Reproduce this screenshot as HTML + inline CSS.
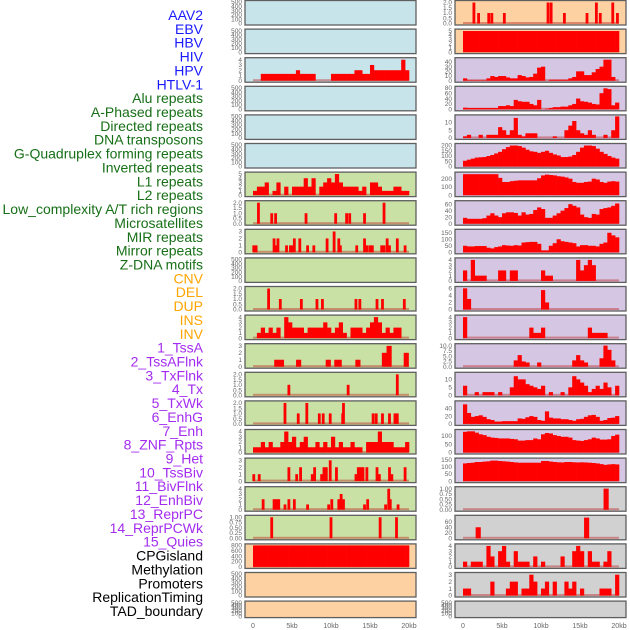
<!DOCTYPE html>
<html><head><meta charset="utf-8"><style>
html,body{margin:0;padding:0;background:#fff;}
svg{display:block;font-family:"Liberation Sans",sans-serif;}
</style></head><body>
<svg id="chart" width="630" height="630" viewBox="0 0 630 630" xmlns="http://www.w3.org/2000/svg"></svg>
<script>
// ---- track names ----
const trackLabels = ["AAV2","EBV","HBV","HIV","HPV","HTLV-1","Alu repeats","A-Phased repeats","Directed repeats","DNA transposons","G-Quadruplex forming repeats","Inverted repeats","L1 repeats","L2 repeats","Low_complexity A/T rich regions","Microsatellites","MIR repeats","Mirror repeats","Z-DNA motifs","CNV","DEL","DUP","INS","INV","1_TssA","2_TssAFlnk","3_TxFlnk","4_Tx","5_TxWk","6_EnhG","7_Enh","8_ZNF_Rpts","9_Het","10_TssBiv","11_BivFlnk","12_EnhBiv","13_ReprPC","14_ReprPCWk","15_Quies","CPGisland","Methylation","Promoters","ReplicationTiming","TAD_boundary"];
const labelGroups = [0,0,0,0,0,0,1,1,1,1,1,1,1,1,1,1,1,1,1,2,2,2,2,2,3,3,3,3,3,3,3,3,3,3,3,3,3,3,3,4,4,4,4,4];
const xTickValues = [0,5,10,15,20];
const xTickLabels = ["0","5kb","10kb","15kb","20kb"];

// ---- dense binned series (40 bins of 0.5kb) ----
const hivCounts = [0,0,1.3,1.3,1.3,1.3,1.3,1.3,1.3,1.3,1.3,2,1.3,1.3,1.3,1.3,0,0,0,0,1.3,1.3,1.3,1.3,1.3,1.3,2,2,1.3,1.3,3,2,2,2,2,2,2,2,4,2];
const l1Counts = [1,2,2,3,0,1,3,0,2,0,2,2,2,4,2,4,0,2,3,4,3,5,3,2,2,2,2,1,2,0,3,3,2,1,1,1,2,2,1,1];
const insCounts = [0,1,2,1,2,1,2,0,4,3,2,2,2,1,2,2,2,2,3,2,1,2,3,1,0,2,2,2,1,2,3,4,3,1,2,1,2,2,0,0];
const state4Counts = [1,1,2,1,2,1,1,2,4,2,3,1,2,3,1,1,2,1,2,1,3,1,2,1,1,2,1,1,0,2,2,2,4,2,2,2,1,1,1,2];
const cpgCounts = Array(40).fill(800);
const dupCounts = Array(40).fill(4.9);
const c2r3Counts = [5,1,1,1,1,1,5,10,8,10,10,7,5,5,12,10,7,8,15,28,30,0,2,2,2,2,2,5,8,20,20,12,12,18,25,30,45,45,8,0];
const c2r4Counts = [6,5,5,5,5,5,5,5,5,12,12,15,12,35,30,28,28,20,15,35,0,2,5,8,8,10,10,15,20,40,30,28,25,20,18,60,78,75,15,25];
const c2r5Counts = [1,2,0,0,2,0,2,2,2,7,5,2,5,13,2,1,3,3,3,0,0,0,0,1,0,0,5,8,11,5,3,2,5,2,0,0,2,0,5,14];
const c2r6Counts = [55,65,75,85,88,90,100,110,125,140,165,185,200,200,195,180,160,145,140,130,140,150,130,115,105,90,90,95,110,140,180,200,200,195,170,140,120,100,85,75];
const c2r7Counts = [255,255,255,255,255,255,255,255,255,210,160,160,170,175,180,180,180,180,180,205,240,250,245,240,230,225,215,200,160,150,150,160,165,200,190,160,150,165,170,165];
const c2r8Counts = [18,15,15,15,15,17,25,32,25,20,32,35,35,33,25,35,28,30,42,50,45,18,18,25,32,40,48,60,55,50,28,20,18,30,28,45,48,50,55,62];
const c2r9Counts = [50,45,45,48,48,48,35,30,40,45,55,52,50,55,52,75,78,80,80,65,15,15,50,70,100,85,80,75,70,45,55,55,50,50,45,65,75,150,130,115];
const c2r10Counts = [2,0,4,1,1,1,0,0,0,2,2,0,2,2,0,0,0,0,0,0,2,1,1,0,0,0,0,0,0,4,2,3,4,3,0,0,0,0,0,0];
const c2r11Counts = [6,3,0,0,0,0,0,0,0,0,0,0,0,0,0,0,0,0,0,0,5.5,2,0,0,0,0,0,0,0,0,0,0,0,0,0,0,0,0,0,0];
const c2r12Counts = [4,0,0,0,0,0,0,0,0,0,0,0,0,0,0,0,0,2,1,1,2,0,0,0,0,0,0,0,0,0,0,0,2,1,1,1,1,0,0,0];
const c2r13Counts = [0,0,0,0,0,0,0,0,0,0,0,0,0,3,5.5,2.5,2,0,0,2,0,0,0,0,0,0,0,0,3,5.5,3,2,0,0,0,4,10,8,3,0];
const c2r14Counts = [6,0,0,2,0,2,2,2,0,2,0,0,5,12,10,10,7,6,5,4,6,0,2,0,0,2,0,5,12,10,8,6,2,4,6,4,8,5,0,6];
const c2r15Counts = [50,28,18,20,22,18,12,10,6,6,7,7,7,7,14,13,17,20,18,10,8,32,16,14,14,12,12,10,8,12,13,18,22,23,18,8,10,15,16,20];
const c2r16Counts = [125,128,128,120,110,105,95,90,88,85,85,85,82,80,72,72,75,75,85,80,110,118,115,105,100,95,95,90,75,72,70,75,80,90,85,78,78,80,100,108];
const c2r17Counts = [125,128,130,135,135,138,140,145,145,142,140,138,135,132,130,130,130,130,130,130,142,142,138,135,133,132,135,135,133,132,133,132,130,128,125,120,115,118,120,118];
const c2r20Counts = [1,0,1,1,1,0,4,2,0,3,4,1,0,3,1,1,1,0,2,0,1,0,0,0,0,2,0,0,3,4,3,0,3,1,1,0,1,3,0,0];
const c2r21Counts = [1,1,0,0,0,0,0,2,0,0,0,1,2,2,0,1,1,3,2,0,1,2,0,2,0,0,2,1,2,0,1,0,0,0,0,1,1,1,0,3];

// ---- sparse spike series (position kb / value) ----
const l2Pos = [0.7,2.4,2.9,6.8,10.6,12.0,12.4,14.3,16.8];
const l2Vals = [2,1,1,1,1,1,1,1,2];
const mirPos = [0.1,0.4,2.7,3.0,3.2,4.3,4.8,5.0,5.3,6.0,7.0,7.8,9.5,10.4,11.0,11.2,13.3,14.3,14.6,15.0,15.3,16.5,16.8,17.2,17.5,18.5,19.5];
const mirVals = [1,1,2,1,2,1,1,1,2,2,1,1,2,3,2,1,1,2,1,1,1,1,1,2,1,2,1];
const delPos = [2.0,3.5,6.2,8.2,8.9,13.2,13.7,15.9,16.6,19.4];
const delVals = [2,1,1,1,1,1,1,1,1,1];
const tssaPos = [2.9,3.2,3.5,3.8,5.7,6.0,9.5,9.8,10.6,10.9,11.2,13.3,13.6,16.7,17.0,17.3,17.6,19.5,19.8];
const tssaVals = [1,1,1,1,1,1,1,1,1,1,1,1,1,2,2,3,3,2,2];
const flnkPos = [4.6,12.2,18.5];
const flnkVals = [1,1,2];
const txflnkPos = [4.1,5.8,6.9,8.5,9.0,9.9,11.5,11.6,15.4,15.8,16.6,17.5,18.2,18.5];
const txflnkVals = [2,1,2,1,1,1,1,2,1,1,1,1,1,1];
const c1r17Pos = [0.1,0.8,4.6,5.6,6.1,7.6,7.9,8.8,9.1,9.4,9.9,10.7,13.2,13.5,13.8,14.1,14.6,15.9,16.2,17.5,17.8,19.5];
const c1r17Vals = [1,1,2,1,2,1,2,1,2,2,3,2,1,2,2,2,2,2,1,2,1,2];
const c1r18Pos = [1.3,2.7,3.0,3.3,4.1,4.6,5.3,7.0,9.7,10.1,11.0,11.3,11.6,14.3,14.7,17.0,17.4,17.6,18.6];
const c1r18Vals = [2,2,2,2,1,2,2,1,1,2,2,3,2,1,2,1,4,2,1];
const c1r19Pos = [2.4,10.0,16.3,18.4];
const c1r19Vals = [1,1,1,1];
const cnvPos = [1.4,2.0,3.3,3.7,5.3,10.9,11.3,13.0,15.9,17.1,17.6,19.2,19.8];
const cnvVals = [2,1,1,1,1,2,2,1,1,2,1,2,1];
const c2r18Pos = [18.2,18.5];
const c2r18Vals = [1,1];
const c2r19Pos = [1.8,2.1,15.7,16.0];
const c2r19Vals = [40,40,75,75];

// ---- tick sets ----
const ticksEmpty = ["0","100","200","300","400","500"];
const ticks2dec = ["0.0","0.5","1.0","1.5","2.0"];
const ticks1 = ["0.00","0.25","0.50","0.75","1.00"];
const ticks3 = ["0","1","2","3"];
const ticks4 = ["0","1","2","3","4"];
const ticks5 = ["0","1","2","3","4","5"];
const ticks6 = ["0","2","4","6"];

const BG = {blue:"#c8e4eb", green:"#c9e1a5", orange:"#fdd1a2", purple:"#d5c7e3", grey:"#d1d1d1"};
const LABEL_COLORS = ["#1a1aff","#176f17","#ffa500","#a32cf0","#000000"];

// panels: [col,row,bg,ticks,ymax,dense,pos,vals,name]
const panels = [
 [0,0,"blue",ticksEmpty,500,null,null,null,"aav2"],
 [0,1,"blue",ticksEmpty,500,null,null,null,"ebv"],
 [0,2,"blue",ticks4,4.1,hivCounts,null,null,"hiv"],
 [0,3,"blue",ticksEmpty,500,null,null,null,"hpv"],
 [0,4,"blue",ticksEmpty,500,null,null,null,"htlv"],
 [0,5,"blue",ticksEmpty,500,null,null,null,"alu"],
 [0,6,"green",ticks5,5.1,l1Counts,null,null,"l1"],
 [0,7,"green",ticks2dec,2.05,null,l2Pos,l2Vals,"l2"],
 [0,8,"green",ticks3,3.1,null,mirPos,mirVals,"mir"],
 [0,9,"green",ticksEmpty,500,null,null,null,"zdna"],
 [0,10,"green",ticks2dec,2.05,null,delPos,delVals,"del"],
 [0,11,"green",ticks4,4.1,insCounts,null,null,"ins"],
 [0,12,"green",ticks3,3.1,null,tssaPos,tssaVals,"tssa"],
 [0,13,"green",ticks2dec,2.05,null,flnkPos,flnkVals,"tssaflnk"],
 [0,14,"green",ticks2dec,2.05,null,txflnkPos,txflnkVals,"txflnk"],
 [0,15,"green",ticks4,4.1,state4Counts,null,null,"tx"],
 [0,16,"green",ticks3,3.1,null,c1r17Pos,c1r17Vals,"txwk"],
 [0,17,"green",ticks4,4.1,null,c1r18Pos,c1r18Vals,"enhg"],
 [0,18,"green",ticks1,1.02,null,c1r19Pos,c1r19Vals,"enh"],
 [0,19,"orange",["0","200","400","600","800"],800,cpgCounts,null,null,"cpg"],
 [0,20,"orange",ticksEmpty,500,null,null,null,"promoters"],
 [0,21,"orange",ticksEmpty,500,null,null,null,"replication"],
 [1,0,"orange",ticks2dec,2.05,null,cnvPos,cnvVals,"cnv"],
 [1,1,"orange",ticks5,5,dupCounts,null,null,"dup"],
 [1,2,"purple",["0","10","20","30","40"],46,c2r3Counts,null,null,"state-a"],
 [1,3,"purple",["0","20","40","60","80"],80,c2r4Counts,null,null,"state-b"],
 [1,4,"purple",["0","5","10"],14,c2r5Counts,null,null,"state-c"],
 [1,5,"purple",["0","50","100","150","200"],205,c2r6Counts,null,null,"state-d"],
 [1,6,"purple",["0","100","200"],262,c2r7Counts,null,null,"state-e"],
 [1,7,"purple",["0","20","40","60"],66,c2r8Counts,null,null,"state-f"],
 [1,8,"purple",["0","50","100","150"],165,c2r9Counts,null,null,"state-g"],
 [1,9,"purple",ticks4,4.1,c2r10Counts,null,null,"state-h"],
 [1,10,"purple",ticks6,6.1,c2r11Counts,null,null,"state-i"],
 [1,11,"purple",ticks4,4.1,c2r12Counts,null,null,"state-j"],
 [1,12,"purple",["0.0","2.5","5.0","7.5","10.0"],10.2,c2r13Counts,null,null,"state-k"],
 [1,13,"purple",["0","5","10"],13.5,c2r14Counts,null,null,"state-l"],
 [1,14,"purple",["0","20","40"],55,c2r15Counts,null,null,"state-m"],
 [1,15,"purple",["0","50","100"],130,c2r16Counts,null,null,"state-n"],
 [1,16,"purple",["0","50","100","150"],152,c2r17Counts,null,null,"state-o"],
 [1,17,"grey",ticks1,1.02,null,c2r18Pos,c2r18Vals,"grey-a"],
 [1,18,"grey",["0","20","40","60"],78,null,c2r19Pos,c2r19Vals,"grey-b"],
 [1,19,"grey",ticks4,4.1,c2r20Counts,null,null,"grey-c"],
 [1,20,"grey",ticks3,3.1,c2r21Counts,null,null,"grey-d"],
 [1,21,"grey",ticksEmpty,500,null,null,null,"tad"]
];

const NS = "http://www.w3.org/2000/svg";
const svg = document.getElementById("chart");
function mk(tag, attrs, parent){
  const e = document.createElementNS(NS, tag);
  for (const k in attrs) e.setAttribute(k, attrs[k]);
  (parent||svg).appendChild(e);
  return e;
}
const COL_X = [245, 455], PW = 171, PITCH = 28.6;
function xScale(col, kb){ return COL_X[col] + 8 + kb * 7.8; }

// labels
trackLabels.forEach((t, i) => {
  const el = mk("text", {x:203, y:15 + i*13.86 + 5, "text-anchor":"end", "font-size":"14", fill:LABEL_COLORS[labelGroups[i]]});
  el.textContent = t;
  
  
});

panels.forEach(p => {
  const [col,row,bg,ticks,ymax,dense,pos,vals,name] = p;
  const top = row * PITCH + 0.5;
  const h = row === 21 ? 16.5 : 24.5;
  const x0 = COL_X[col];
  const g = mk("g", {});
  
  
  mk("rect", {x:x0, y:top, width:PW, height:h, fill:BG[bg], stroke:"#5f5f5f", "stroke-width":"1.3"}, g);
  const base = top + h - 1.5;
  const span = h - 3;
  const yScale = v => base - (v / ymax) * span;
  // y ticks
  ticks.forEach(t => {
    const tv = parseFloat(t);
    const tt = mk("text", {x:x0 - 3, y:yScale(tv) + 2.2, "text-anchor":"end", "font-size":"6.5", fill:"#666"}, g);
    tt.textContent = t;
    
    
  });
  if (!dense && !pos) return;
  // baseline band
  const bl = mk("rect", {x:xScale(col,0), y:base - 1.5, width:xScale(col,20) - xScale(col,0), height:2, fill:"rgba(190,40,40,0.45)"}, g);
  
  
  if (dense) {
    dense.forEach((v, i) => {
      if (v <= 0) return;
      const xa = xScale(col, i*0.5), xb = xScale(col, i*0.5 + 0.5);
      const r = mk("rect", {x:xa, y:yScale(v), width:xb - xa + 0.3, height:base - yScale(v), fill:"#ff0000"}, g);
      
      
    });
  }
  if (pos) {
    pos.forEach((kb, i) => {
      const v = vals[i];
      const xa = xScale(col, kb - 0.18);
      const r = mk("rect", {x:xa, y:yScale(v), width:2.8, height:base - yScale(v), fill:"#ff0000"}, g);
      
      
    });
  }
});

// x axes
[0,1].forEach(col => {
  xTickValues.forEach((v, i) => {
    const t = mk("text", {x:xScale(col, v), y:628, "text-anchor":"middle", "font-size":"7", fill:"#666"});
    t.textContent = xTickLabels[i];
    
    
  });
});
</script>
</body></html>
